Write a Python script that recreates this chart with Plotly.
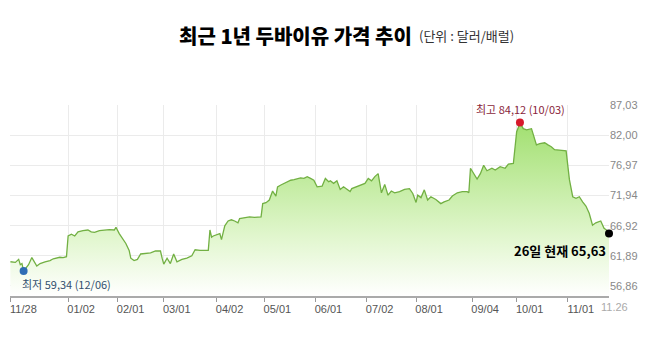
import plotly.graph_objects as go

# ---------------- data ----------------
dates = [
    "2017-11-28", "2017-12-01", "2017-12-03", "2017-12-04", "2017-12-05", "2017-12-06",
    "2017-12-09", "2017-12-11", "2017-12-14", "2017-12-16", "2017-12-19", "2017-12-22",
    "2017-12-24", "2017-12-26", "2017-12-28", "2017-12-30", "2018-01-01", "2018-01-02",
    "2018-01-04", "2018-01-06", "2018-01-08", "2018-01-11", "2018-01-14", "2018-01-16",
    "2018-01-18", "2018-01-21", "2018-01-24", "2018-01-27", "2018-01-30", "2018-01-31",
    "2018-02-02", "2018-02-06", "2018-02-08", "2018-02-09", "2018-02-11", "2018-02-13",
    "2018-02-15", "2018-02-18", "2018-02-21", "2018-02-24", "2018-02-27", "2018-02-28",
    "2018-03-01", "2018-03-03", "2018-03-05", "2018-03-07", "2018-03-09", "2018-03-12",
    "2018-03-15", "2018-03-18", "2018-03-20", "2018-03-23", "2018-03-27", "2018-03-28",
    "2018-03-29", "2018-03-30", "2018-03-31", "2018-04-02", "2018-04-04", "2018-04-05",
    "2018-04-07", "2018-04-09", "2018-04-11", "2018-04-13", "2018-04-15", "2018-04-16",
    "2018-04-19", "2018-04-22", "2018-04-25", "2018-04-29", "2018-04-30", "2018-05-02",
    "2018-05-04", "2018-05-05", "2018-05-06", "2018-05-08", "2018-05-09", "2018-05-11",
    "2018-05-13", "2018-05-15", "2018-05-17", "2018-05-19", "2018-05-21", "2018-05-23",
    "2018-05-25", "2018-05-27", "2018-05-29", "2018-05-31", "2018-06-02", "2018-06-05",
    "2018-06-07", "2018-06-09", "2018-06-10", "2018-06-12", "2018-06-14", "2018-06-16",
    "2018-06-18", "2018-06-22", "2018-06-23", "2018-06-26", "2018-06-29", "2018-07-01",
    "2018-07-03", "2018-07-05", "2018-07-07", "2018-07-09", "2018-07-11", "2018-07-13",
    "2018-07-15", "2018-07-17", "2018-07-19", "2018-07-22", "2018-07-25", "2018-07-28",
    "2018-07-30", "2018-08-01", "2018-08-02", "2018-08-04", "2018-08-06", "2018-08-08",
    "2018-08-10", "2018-08-13", "2018-08-16", "2018-08-18", "2018-08-21", "2018-08-23",
    "2018-08-26", "2018-08-29", "2018-09-01", "2018-09-02", "2018-09-03", "2018-09-05",
    "2018-09-07", "2018-09-09", "2018-09-11", "2018-09-13", "2018-09-16", "2018-09-18",
    "2018-09-21", "2018-09-24", "2018-09-26", "2018-09-29", "2018-10-01", "2018-10-02",
    "2018-10-03", "2018-10-05", "2018-10-07", "2018-10-10", "2018-10-11", "2018-10-13",
    "2018-10-15", "2018-10-18", "2018-10-20", "2018-10-22", "2018-10-24", "2018-10-27",
    "2018-10-31", "2018-11-02", "2018-11-04", "2018-11-06", "2018-11-08", "2018-11-10",
    "2018-11-12", "2018-11-14", "2018-11-16", "2018-11-18", "2018-11-21", "2018-11-23",
    "2018-11-25", "2018-11-26",
]
prices = [
    60.9, 60.8, 61.3, 60.4, 60.6, 59.34,
    60.4, 61.6, 60.2, 60.6, 60.9, 61.1,
    61.4, 61.5, 61.65, 61.6, 61.75, 65.2,
    65.5, 65.2, 65.9, 66.1, 66.2, 65.9,
    65.8, 66.1, 66.2, 66.25, 66.2, 66.65,
    65.6, 63.95, 62.8, 61.5, 61.1, 61.3,
    62.2, 62.3, 62.4, 62.7, 62.7, 61.5,
    60.5, 61.5, 60.6, 62.2, 60.9, 61.3,
    61.5, 61.9, 62.9, 62.8, 62.7, 62.8,
    66.2, 65.0, 65.2, 65.4, 65.6, 64.6,
    66.9, 67.7, 67.9, 67.7, 67.4, 68.1,
    68.3, 68.4, 68.3, 68.4, 70.6, 70.75,
    71.2, 72.0, 72.7, 71.86, 73.4, 73.7,
    73.98, 74.25, 74.5, 74.6, 74.8, 74.9,
    74.8, 75.1, 74.8, 74.5, 73.4, 73.5,
    74.8, 74.25, 74.4, 73.98, 74.4, 72.97,
    73.4, 72.6, 73.1, 73.4, 73.7, 73.98,
    74.8, 74.4, 75.1, 75.6, 72.4, 73.8,
    72.0, 72.7, 72.4, 72.6, 72.97, 73.1,
    72.3, 70.8, 72.0, 71.6, 72.9, 71.2,
    71.75, 71.3, 70.6, 70.9, 71.2, 71.86,
    72.4, 72.6, 72.6, 72.4, 76.5, 75.6,
    74.7, 75.6, 77.0, 76.08, 76.5, 76.2,
    76.75, 76.5, 77.2, 77.3, 82.6, 83.3,
    84.12, 83.1, 82.9, 83.1, 82.3, 80.4,
    80.6, 80.75, 80.4, 80.1, 79.6, 79.5,
    79.4, 74.6, 71.75, 71.5, 71.75, 70.9,
    70.2, 69.0, 67.0, 67.4, 67.7, 66.5,
    66.1, 65.63,
]

tick_dates = ["2017-11-28", "2018-01-02", "2018-02-01", "2018-03-01", "2018-04-02",
              "2018-05-01", "2018-06-01", "2018-07-02", "2018-08-01", "2018-09-04",
              "2018-10-01", "2018-11-01"]
tick_labels = ["11/28", "01/02", "02/01", "03/01", "04/02", "05/01", "06/01",
               "07/02", "08/01", "09/04", "10/01", "11/01"]
end_label = "11.26"

y_ticks = [56.86, 61.89, 66.92, 71.94, 76.97, 82.00, 87.03]
y_labels = ["56,86", "61,89", "66,92", "71,94", "76,97", "82,00", "87,03"]

low_date, low_val, low_text = "2017-12-06", 59.34, "최저 59,34 (12/06)"
high_date, high_val, high_text = "2018-10-03", 84.12, "최고 84,12 (10/03)"
last_date, last_val, last_text = "2018-11-26", 65.63, "26일 현재 65,63"

title_text = "최근 1년 두바이유 가격 추이"
unit_text = "(단위 : 달러/배럴)"

# ---------------- figure ----------------
KR = "Noto Sans CJK KR, Noto Sans, sans-serif"
Y_MIN, Y_MAX = 55.19, 87.05

fig = go.Figure()
fig.add_trace(go.Scatter(
    x=dates, y=prices, mode="lines",
    line=dict(color="#72b043", width=1.3),
    fill="tozeroy",
    fillgradient=dict(type="vertical", start=Y_MIN, stop=84.5,
                      colorscale=[[0, "rgba(255,255,255,1)"], [0.35, "#e0f6cc"],
                                  [1, "#a0df6e"]]),
    hoverinfo="skip", showlegend=False,
))

for d, v, c in [(low_date, low_val, "#2f6db5"), (high_date, high_val, "#d7192b"),
                (last_date, last_val, "#000000")]:
    fig.add_trace(go.Scatter(x=[d], y=[v], mode="markers", cliponaxis=False,
                             marker=dict(color=c, size=8), showlegend=False))

annotations = [
    dict(x=0.279, y=1.365, xref="paper", yref="paper", text=title_text, showarrow=False,
         xanchor="left", yanchor="middle",
         font=dict(family=KR, size=20, color="#000000", weight=900)),
    dict(x=0.679, y=1.365, xref="paper", yref="paper", text=unit_text, showarrow=False,
         xanchor="left", yanchor="middle",
         font=dict(family=KR, size=13, color="#333333")),
    dict(x=low_date, y=low_val, text=low_text, showarrow=False, xanchor="left",
         yanchor="top", xshift=-4, yshift=-3,
         font=dict(family=KR, size=11, color="#34506e")),
    dict(x=high_date, y=high_val, text=high_text, showarrow=False, xanchor="center",
         yanchor="bottom", xshift=1, yshift=4,
         font=dict(family=KR, size=11, color="#8a1f3c")),
    dict(x=last_date, y=last_val, text=last_text, showarrow=False, xanchor="right",
         yanchor="top", xshift=-1, yshift=-6,
         font=dict(family=KR, size=13, color="#000000", weight="bold")),
    dict(x=last_date, y=0, xref="x", yref="paper", text=end_label, showarrow=False,
         xanchor="left", yanchor="top", xshift=-10, yshift=-3,
         font=dict(family="Liberation Sans, Arial, sans-serif", size=11, color="#aaaaaa")),
]

fig.update_layout(
    width=650, height=340,
    margin=dict(l=10, r=41, t=105, b=44),
    paper_bgcolor="white", plot_bgcolor="white",
    annotations=annotations,
    showlegend=False,
)
fig.update_xaxes(
    type="date", range=["2017-11-27 18:00", "2018-11-26"],
    tickvals=tick_dates, ticktext=tick_labels,
    ticks="outside", ticklen=4, tickcolor="#999999",
    showgrid=True, gridcolor="#ebebeb", gridwidth=1,
    showline=True, linecolor="#aaaaaa", linewidth=2,
    ticklabelshift=13, ticklabelstandoff=-2,
    tickfont=dict(family="Liberation Sans, Arial, sans-serif", size=11, color="#555555"),
    zeroline=False,
)
fig.update_yaxes(
    range=[Y_MIN, Y_MAX], side="right",
    tickvals=y_ticks, ticktext=y_labels, ticks="",
    showgrid=True, gridcolor="#ebebeb", gridwidth=1,
    showline=False, zeroline=False,
    tickfont=dict(family="Liberation Sans, Arial, sans-serif", size=11, color="#888888"),
)

fig.write_html("out.html")
